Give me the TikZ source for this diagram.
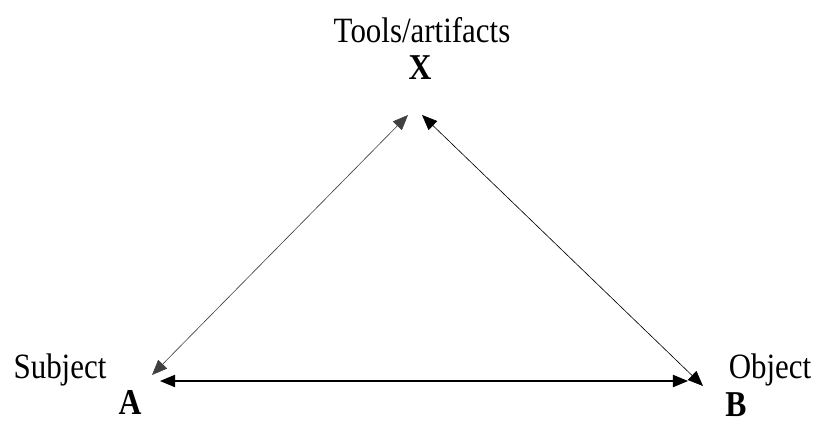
\documentclass[tikz,border=0pt]{standalone}
\usepackage{fontspec}
\setmainfont{Liberation Serif}
\usetikzlibrary{arrows.meta, positioning}
\newcommand{\tallbox}[1]{\scalebox{1}[1.15]{#1}}

\begin{document}
\begin{tikzpicture}[x=0.025cm, y=-0.025cm,
  lbl/.style={inner sep=0pt, anchor=base, font=\fontsize{22}{26}\selectfont},
  vtx/.style={lbl, font=\fontsize{22.5}{26}\selectfont\bfseries},
  link/.style={{Triangle[length=0.38cm, width=0.31cm]}-{Triangle[length=0.38cm, width=0.31cm]}, line width=0.45pt}]
\useasboundingbox (0,0) rectangle (820,423);
% labels
\node[lbl] (tools) at (422, 42) {\tallbox{Tools/artifacts}};
\node[vtx] (X) at (420, 79) {\tallbox{X}};
\node[lbl] (subject) at (60, 378) {\tallbox{Subject}};
\node[vtx] (A) at (130, 414) {\tallbox{A}};
\node[lbl] (object) at (770, 378) {\tallbox{Object}};
\node[vtx] (B) at (736, 416) {\tallbox{B}};
% corners of the triangle
\coordinate (xl) at (408, 115);
\coordinate (xr) at (422, 115);
\coordinate (as) at (152, 375);
\coordinate (ab) at (160, 381);
\coordinate (bs) at (703, 386);
\coordinate (bb) at (688, 381);
\draw[link, black!75] (as) -- (xl);
\draw[link] (xr) -- (bs);
\draw[link, line width=0.8pt] (ab) -- (bb);
\end{tikzpicture}
\end{document}
